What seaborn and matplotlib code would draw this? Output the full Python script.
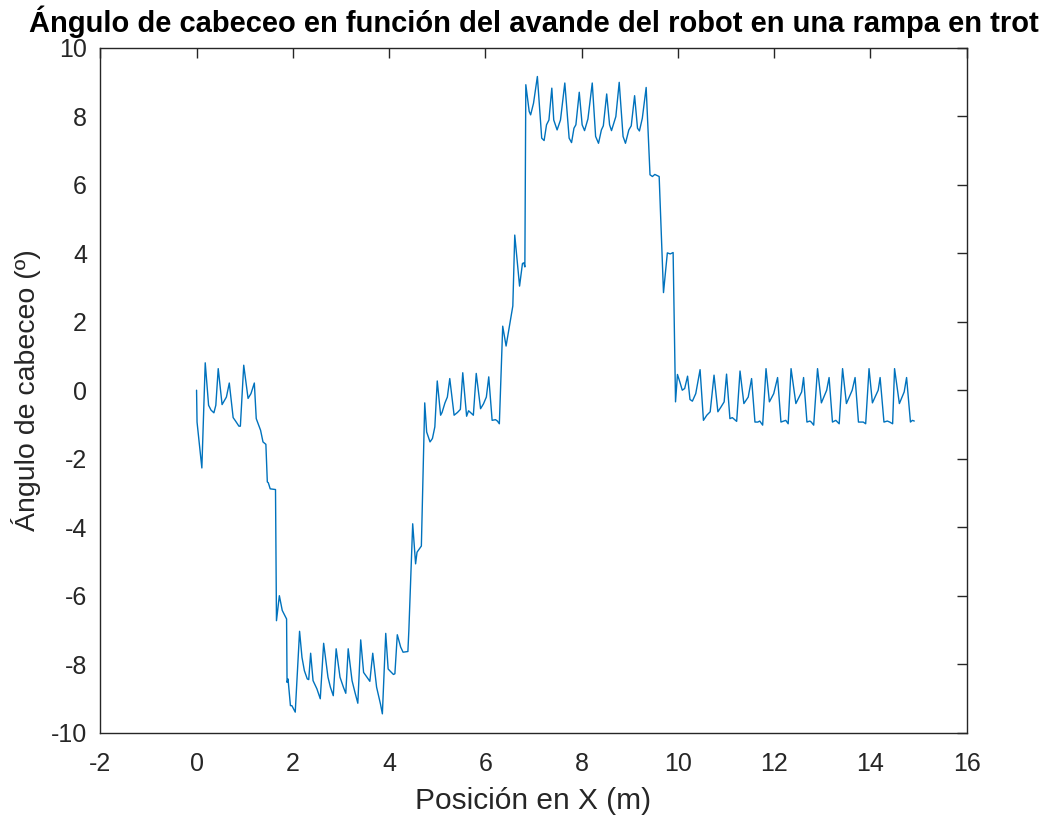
import matplotlib
matplotlib.use("Agg")
import matplotlib.pyplot as plt
import seaborn as sns
import pandas as pd

# Robot forward position (m) and pitch angle (degrees) while trotting over a ramp
posicion_x = [
    0.0, 0.01, 0.11, 0.18, 0.25, 0.3, 0.36, 0.4, 0.45, 0.53, 0.62, 0.68, 0.76, 0.81, 0.88, 0.91,
    0.98, 1.07, 1.13, 1.2, 1.24, 1.33, 1.38, 1.44, 1.47, 1.49, 1.53, 1.64,
    1.66, 1.72, 1.78, 1.87, 1.88, 1.9, 1.95, 1.98, 2.05, 2.14, 2.19, 2.24, 2.3, 2.33, 2.37, 2.42,
    2.5, 2.57, 2.64, 2.73, 2.78, 2.84, 2.9, 2.98, 3.05, 3.1, 3.15, 3.23, 3.29, 3.35, 3.41, 3.47,
    3.5, 3.6, 3.66, 3.74, 3.82, 3.86, 3.93, 3.98, 4.02, 4.09, 4.12, 4.17, 4.24, 4.29, 4.39, 4.41,
    4.49, 4.55, 4.58, 4.67, 4.74, 4.78, 4.85, 4.9, 4.95, 5.0, 5.07, 5.1, 5.16, 5.21, 5.26, 5.35,
    5.42, 5.48, 5.53, 5.61, 5.65, 5.69, 5.75, 5.81, 5.9, 5.96, 6.02, 6.07, 6.14, 6.21, 6.25, 6.29,
    6.36, 6.43, 6.52, 6.57, 6.61, 6.66, 6.71, 6.77, 6.8, 6.82,
    6.84, 6.91, 6.94, 7.0, 7.08, 7.17, 7.22, 7.27, 7.32, 7.38, 7.42, 7.49, 7.56, 7.65, 7.74, 7.79,
    7.84, 7.88, 7.95, 8.01, 8.06, 8.13, 8.22, 8.29, 8.35, 8.41, 8.45, 8.52, 8.58, 8.62, 8.71, 8.78,
    8.86, 8.91, 8.98, 9.03, 9.1, 9.16, 9.2, 9.26, 9.34, 9.42, 9.47, 9.52, 9.61, 9.7, 9.78, 9.84,
    9.9, 9.95, 9.99, 10.04, 10.09, 10.14, 10.2, 10.25, 10.3, 10.37, 10.46, 10.53, 10.6, 10.67, 10.75,
    10.83, 10.89, 10.96, 11.01, 11.08, 11.13, 11.17, 11.22, 11.29, 11.37, 11.46, 11.53, 11.6, 11.66,
    11.7, 11.76, 11.83, 11.9, 11.99, 12.07, 12.14, 12.2, 12.24, 12.29, 12.35, 12.45, 12.57, 12.61,
    12.68, 12.74, 12.77, 12.82, 12.9, 12.98, 13.09, 13.14, 13.21, 13.28, 13.35, 13.42, 13.5, 13.62,
    13.68, 13.75, 13.81, 13.85, 13.9, 13.97, 14.04, 14.16, 14.2, 14.28, 14.35, 14.4, 14.46, 14.5,
    14.6, 14.7, 14.75, 14.83, 14.87, 14.91,
]
angulo_cabeceo = [
    0.0, -0.93, -2.27, 0.8, -0.44, -0.58, -0.66, -0.44, 0.63, -0.42, -0.2, 0.21, -0.8, -0.9, -1.05, -1.05,
    0.73, -0.24, -0.1, 0.21, -0.83, -1.17, -1.51, -1.58, -2.68, -2.7, -2.88, -2.9,
    -6.73, -6.0, -6.43, -6.68, -8.53, -8.43, -9.21, -9.21, -9.4, -7.04, -7.8, -8.19, -8.43, -8.45, -7.68, -8.48,
    -8.72, -9.01, -7.39, -8.38, -8.67, -8.92, -7.55, -8.38, -8.67, -8.85, -7.55, -8.48, -8.82, -9.14, -7.29, -8.24,
    -8.3, -8.5, -7.68, -8.67, -9.16, -9.45, -7.1, -8.14, -8.2, -8.3, -8.28, -7.14, -7.5, -7.65, -7.63, -7.02,
    -3.9, -5.07, -4.73, -4.55, -0.37, -1.22, -1.51, -1.41, -1.07, 0.27, -0.73, -0.65, -0.37, -0.2, 0.34, -0.73,
    -0.65, -0.56, 0.51, -0.76, -0.6, -0.65, -0.73, 0.49, -0.54, -0.4, -0.2, 0.39, -0.88, -0.86, -0.9, -0.98,
    1.87, 1.29, 2.05, 2.46, 4.53, 3.8, 3.04, 3.7, 3.72, 3.6,
    8.92, 8.14, 8.04, 8.38, 9.16, 7.36, 7.29, 7.75, 7.89, 8.82, 7.89, 7.6, 7.89, 8.97, 7.36, 7.23,
    7.65, 7.75, 8.7, 7.75, 7.58, 7.92, 8.97, 7.41, 7.21, 7.6, 7.72, 8.65, 7.75, 7.58, 7.99, 8.99,
    7.41, 7.21, 7.6, 7.72, 8.6, 7.65, 7.57, 7.94, 8.84, 6.29, 6.24, 6.3, 6.24, 2.85, 4.01, 3.98,
    4.02, -0.34, 0.46, 0.24, 0.0, 0.05, 0.41, -0.27, -0.32, -0.1, 0.6, -0.88, -0.73, -0.63, 0.44,
    -0.63, -0.5, -0.34, 0.47, -0.83, -0.8, -0.85, -0.91, 0.56, -0.39, -0.2, 0.34, -0.93, -0.93,
    -0.9, -1.02, 0.63, -0.34, -0.1, 0.37, -0.93, -0.9, -0.88, -0.98, 0.63, -0.39, -0.05, 0.37,
    -0.93, -0.9, -0.93, -1.02, 0.63, -0.37, 0.0, 0.37, -0.93, -0.88, -0.98, 0.63, -0.39, 0.0,
    0.37, -0.93, -0.93, -0.93, -0.98, 0.63, -0.37, 0.0, 0.37, -0.93, -0.9, -0.93, -0.98, 0.63,
    -0.39, -0.05, 0.37, -0.93, -0.88, -0.9,
]
x_ticks = [-2, 0, 2, 4, 6, 8, 10, 12, 14, 16]
y_ticks = [-10, -8, -6, -4, -2, 0, 2, 4, 6, 8, 10]

titulo = "Ángulo de cabeceo en función del avande del robot en una rampa en trot"
etiqueta_x = "Posición en X (m)"
etiqueta_y = "Ángulo de cabeceo (º)"

sns.set_style("white")
plt.rcParams["font.family"] = ["Liberation Sans", "DejaVu Sans"]
plt.rcParams["axes.unicode_minus"] = False

df = pd.DataFrame({"x": posicion_x, "y": angulo_cabeceo})

fig = plt.figure(figsize=(10.49, 8.16), dpi=100)
ax = fig.add_axes([0.0956, 0.1021, 0.9216 - 0.0956, 0.9415 - 0.1021])

sns.lineplot(data=df, x="x", y="y", sort=False, estimator=None,
             color="#0072BD", linewidth=1.0, ax=ax)

ax.set_xlim(-2, 16)
ax.set_ylim(-10, 10)
ax.set_xticks(x_ticks)
ax.set_yticks(y_ticks)
ax.set_xticklabels([str(t) for t in x_ticks])
ax.set_yticklabels([str(t) for t in y_ticks])

for side in ["left", "right", "top", "bottom"]:
    ax.spines[side].set_visible(True)
    ax.spines[side].set_color("#262626")
    ax.spines[side].set_linewidth(1.0)

ax.tick_params(axis="both", which="major", direction="in", length=7, width=1.0,
               color="#262626", labelsize=18, labelcolor="#262626",
               top=True, right=True)
ax.tick_params(axis="x", pad=14)
ax.tick_params(axis="y", pad=9.5)

ax.set_xlabel(etiqueta_x, fontsize=21.5, color="#262626", labelpad=8)
ax.set_ylabel(etiqueta_y, fontsize=20.5, color="#262626", labelpad=7)
ax.set_title(titulo, fontsize=21, fontweight="bold", color="black", pad=11)

fig.savefig("out.png", dpi=100, facecolor="white")
